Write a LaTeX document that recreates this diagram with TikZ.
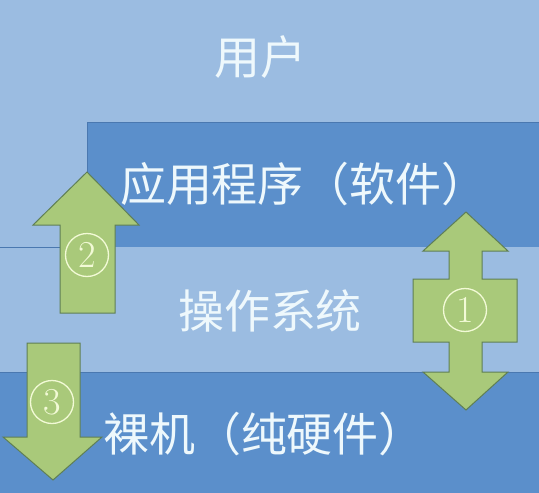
\documentclass[tikz,border=0pt]{standalone}
\usepackage{fontspec}
\newfontfamily\cjk{Noto Sans CJK SC}
\definecolor{lightb}{HTML}{9BBCE1}
\definecolor{darkb}{HTML}{5B8FCB}
\definecolor{edgeb}{HTML}{4A78B0}
\definecolor{grn}{HTML}{A9C97A}
\definecolor{grnline}{HTML}{5F7F55}
\definecolor{txt}{HTML}{EEF8FC}
\definecolor{circ}{HTML}{F2FAD6}
\tikzset{
  layertext/.style={text=txt, font=\cjk\fontsize{46}{46}\selectfont, inner sep=0pt},
  arrowshape/.style={fill=grn, draw=grnline, line width=1pt, line join=miter},
  numcirc/.style={circle, draw=circ, line width=1.3pt, minimum size=43pt, inner sep=0pt, text=circ, font=\fontsize{38}{38}\selectfont}
}
\begin{document}
\begin{tikzpicture}[x=1pt,y=-1pt]
\useasboundingbox (0,0) rectangle (539,493);
% layers
\fill[lightb] (0,0) rectangle (539,248);
\fill[darkb] (87,122) rectangle (539,248);
\draw[edgeb, line width=1pt] (87,248) -- (87,122) -- (539,122);
\fill[lightb] (0,247) rectangle (539,372);
\draw[edgeb, line width=0.8pt] (0,247) -- (87,247);
\fill[darkb] (0,372) rectangle (539,493);
\draw[edgeb, line width=0.6pt] (0,372) -- (539,372);
% layer texts
\node[layertext] (user) at (260,57) {用户};
\node[layertext] (app) at (304,184) {应用程序（软件）};
\node[layertext] (os) at (270,311) {操作系统};
\node[layertext] (hw) at (264,434) {裸机（纯硬件）};
% arrow 2 (up)
\path[arrowshape] (60,313) -- (60,225) -- (33,225) -- (87,172) -- (139,225) -- (115,225) -- (115,313) -- cycle;
\node[numcirc] (n2) at (87,255) {2};
% arrow 3 (down)
\path[arrowshape] (27,343) -- (80,343) -- (80,437) -- (102,437) -- (53,480) -- (3,437) -- (27,437) -- cycle;
\node[numcirc] (n3) at (52,402) {3};
% arrow 1 (double)
\path[arrowshape] (466,212) -- (508,251) -- (482,251) -- (482,279) -- (517,279) -- (517,342) -- (482,342) -- (482,372) -- (508,372) -- (466,410) -- (423,372) -- (449,372) -- (449,342) -- (413,342) -- (413,279) -- (449,279) -- (449,251) -- (423,251) -- cycle;
\node[numcirc] (n1) at (465,310) {1};
\end{tikzpicture}
\end{document}
